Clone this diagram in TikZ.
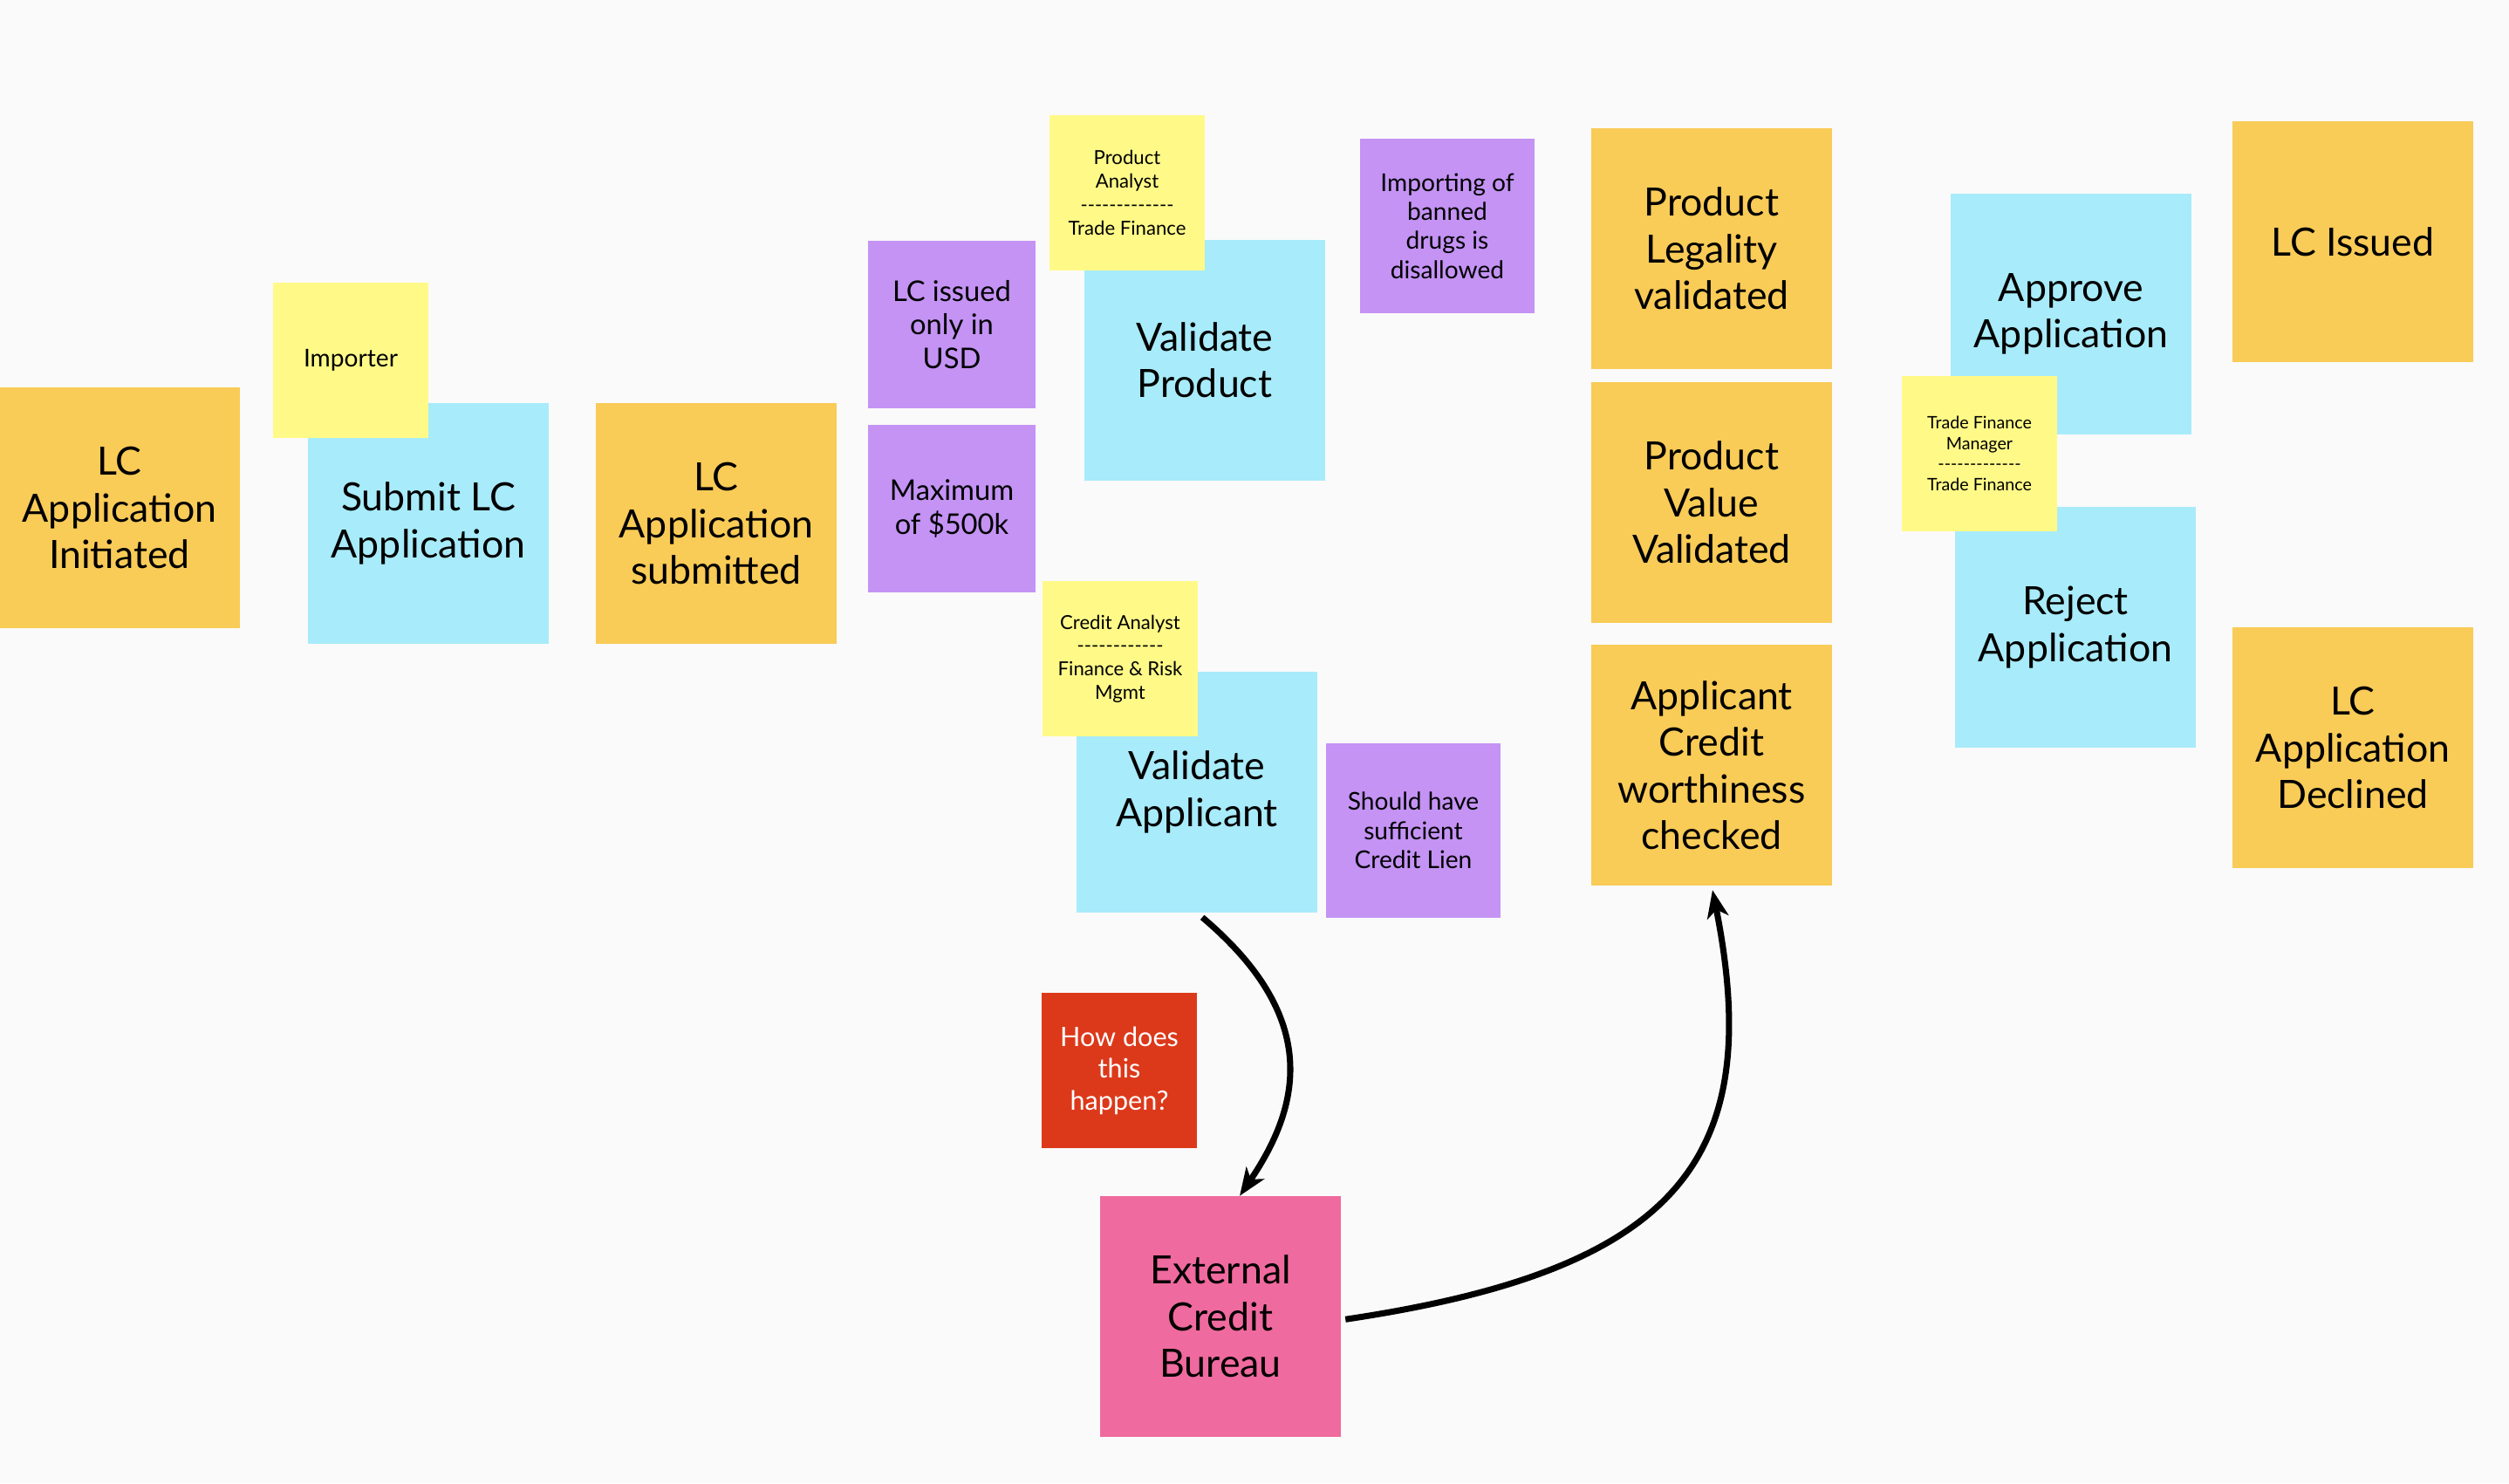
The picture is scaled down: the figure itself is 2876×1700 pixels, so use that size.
\documentclass[tikz,border=0pt]{standalone}
\usepackage{fontspec}
\setmainfont{Lato}
\usetikzlibrary{arrows.meta}
\definecolor{bgc}{HTML}{FAFAFA}
\definecolor{evt}{HTML}{F9CB57}
\definecolor{cmd}{HTML}{A8EBFA}
\definecolor{act}{HTML}{FFFA88}
\definecolor{pol}{HTML}{C493F4}
\definecolor{hot}{HTML}{DC391B}
\definecolor{extc}{HTML}{EF6A9E}
\newcommand\dashrow[1]{\foreach \i in {1,...,#1}{-\kern0pt}}
\begin{document}
\begin{tikzpicture}[x=0.01cm,y=-0.01cm,
  sticky/.style={rectangle, inner sep=0pt, align=center, text=black},
  big/.style={sticky, minimum width=2.75cm, minimum height=2.75cm, font=\fontsize{12.7}{15.2}\selectfont},
  eventbox/.style={big, fill=evt},
  cmdbox/.style={big, fill=cmd},
  actorbox/.style={sticky, fill=act, minimum width=1.78cm, minimum height=1.78cm, font=\fontsize{6.3}{7.6}\selectfont},
  rulebox/.style={sticky, fill=pol, minimum width=2cm, minimum height=2cm, font=\fontsize{8}{9.5}\selectfont},
  rulebig/.style={sticky, fill=pol, minimum width=1.92cm, minimum height=1.92cm, font=\fontsize{9.3}{11}\selectfont},
  hotbox/.style={sticky, fill=hot, text=white, minimum width=1.78cm, minimum height=1.78cm, font=\fontsize{8.7}{10.4}\selectfont},
  extbox/.style={big, fill=extc},
  conn/.style={line width=2pt, -{Stealth[length=9pt,width=7pt,inset=2.5pt]}}
]
\fill[bgc] (0,0) rectangle (2876,1700);
\useasboundingbox (0,0) rectangle (2876,1700);

\node[eventbox] (init) at (137,582) {LC\\Application\\Initiated};
\node[cmdbox] (submit) at (491,600) {Submit LC\\Application};
\node[actorbox, font=\fontsize{8}{9.6}\selectfont] (importer) at (402,413) {Importer};
\node[eventbox] (submitted) at (821,600) {LC\\Application\\submitted};
\node[rulebig] (usd) at (1091,372) {LC issued\\only in\\USD};
\node[rulebig] (maxamt) at (1091,583) {Maximum\\of \$500k};
\node[cmdbox] (valprod) at (1381,413) {Validate\\Product};
\node[actorbox] (pa) at (1292,221) {Product\\Analyst\\\dashrow{13}\\Trade Finance};
\node[rulebox] (banned) at (1659,259) {Importing of\\banned\\drugs is\\disallowed};
\node[cmdbox] (valapp) at (1372,908) {Validate\\Applicant};
\node[actorbox] (ca) at (1284,755) {Credit Analyst\\\dashrow{12}\\Finance \& Risk\\Mgmt};
\node[rulebox] (lien) at (1620,952) {Should have\\sufficient\\Credit Lien};
\node[eventbox] (legal) at (1962,285) {Product\\Legality\\validated};
\node[eventbox] (value) at (1962,576) {Product\\Value\\Validated};
\node[eventbox] (credit) at (1962,877) {Applicant\\Credit\\worthiness\\checked};
\node[cmdbox] (approve) at (2374,360) {Approve\\Application};
\node[cmdbox] (reject) at (2379,719) {Reject\\Application};
\node[actorbox, font=\fontsize{5.6}{6.7}\selectfont] (tfm) at (2269,520) {Trade Finance\\Manager\\\dashrow{13}\\Trade Finance};
\node[eventbox] (issued) at (2697,277) {LC Issued};
\node[eventbox] (declined) at (2697,857) {LC\\Application\\Declined};
\node[hotbox] (how) at (1283,1227) {How does\\this\\happen?};
\node[extbox] (ext) at (1399,1509) {External\\Credit\\Bureau};

\draw[conn, shorten <=0.08cm] (valapp.south) .. controls (1510,1163) and (1495,1262) .. ([xshift=0.22cm]ext.north);
\draw[conn, shorten <=0.05cm, shorten >=0.05cm] ([yshift=-0.04cm]ext.east) .. controls (1920,1456) and (2025,1332) .. (credit.south);
\end{tikzpicture}
\end{document}
